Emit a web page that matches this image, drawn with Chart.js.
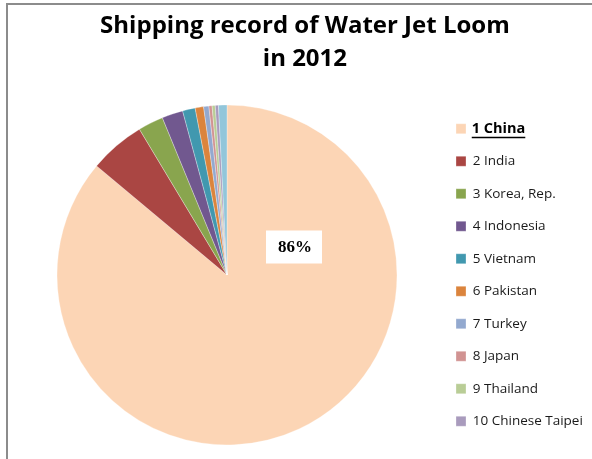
<!DOCTYPE html>
<html>
<head>
<meta charset="utf-8">
<script src="https://cdn.jsdelivr.net/npm/chart.js@4.4.1/dist/chart.umd.min.js"></script>
<style>
  html, body { margin: 0; padding: 0; background: #fff; }
  #wrap { position: relative; width: 592px; height: 459px; overflow: hidden; }
  #frame {
    position: absolute; left: 6px; top: 3px; right: -4px; bottom: -4px;
    border-top: 2px solid #8c8c8c; border-left: 2px solid #8c8c8c;
  }
  #myChart { position: absolute; left: 0; top: 0; }
</style>
</head>
<body>
<div id="wrap">
  <div id="frame"></div>
  <canvas id="myChart" width="592" height="459"></canvas>
</div>
<script>
// Datos: participación por país (%)
const paises = [
  "1 China", "2 India", "3 Korea, Rep.", "4 Indonesia", "5 Vietnam",
  "6 Pakistan", "7 Turkey", "8 Japan", "9 Thailand", "10 Chinese Taipei",
  "11 Others"
];
const participacion = [86, 5.3, 2.4, 2.0, 1.2, 0.8, 0.5, 0.3, 0.3, 0.3, 0.8];
const colores = [
  "#FCD5B5", "#AA4643", "#89A54E", "#71588F", "#4198AF",
  "#DB843D", "#93A9CF", "#D19392", "#B9CD96", "#A99BBD", "#92C6DA"
];
const titulo = ["Shipping record of Water Jet Loom", "in 2012"];

const fuenteLeyenda = { family: "'Open Sans'", size: 13.5 };
const cajaLeyenda = 10;
const sepLeyenda = 19;

// Ancho del texto más largo de la leyenda, para ubicar el pastel
const medidor = document.createElement("canvas").getContext("2d");
medidor.font = fuenteLeyenda.size + "px " + fuenteLeyenda.family;
const anchoTexto = Math.max(...paises.slice(0, 10).map((t) => medidor.measureText(t).width));
const bordeLeyenda = 437; // borde izquierdo de la leyenda
// Chart.js suma 10px extra al ancho de una leyenda vertical
const padDerecho = 592 - bordeLeyenda - (10 + sepLeyenda + cajaLeyenda + fuenteLeyenda.size / 2 + anchoTexto);

// Etiqueta del porcentaje de China + leyenda resaltada
const etiquetas = {
  id: "etiquetas",
  afterDatasetsDraw(chart) {
    const ctx = chart.ctx;
    const arco = chart.getDatasetMeta(0).data[0];
    const total = participacion.reduce((a, b) => a + b, 0);
    const texto = Math.round((participacion[0] / total) * 100) + "%";
    const cx = arco.x + 67;
    const cy = arco.y - 28;
    ctx.save();
    ctx.fillStyle = "#fff";
    ctx.fillRect(cx - 28, cy - 16.5, 56, 33);
    ctx.fillStyle = "#000";
    ctx.font = "bold 17px 'Liberation Serif'";
    ctx.textAlign = "center";
    ctx.textBaseline = "middle";
    ctx.fillText(texto, cx + 1, cy + 1);
    ctx.restore();
  },
  afterDraw(chart) {
    const caja = chart.legend.legendHitBoxes[0];
    if (!caja) return;
    const ctx = chart.ctx;
    const x = caja.left + cajaLeyenda + fuenteLeyenda.size / 2 - 1;
    const y = caja.top + caja.height / 2;
    ctx.save();
    ctx.font = "bold 14.5px 'Open Sans'";
    ctx.fillStyle = "#000";
    ctx.textBaseline = "middle";
    ctx.fillText(paises[0], x, y);
    const w = ctx.measureText(paises[0]).width;
    ctx.fillRect(x, y + 8, w, 1.5);
    ctx.restore();
  },
};

const grafica = document.getElementById("myChart").getContext("2d");
const myChart = new Chart(grafica, {
  type: "pie",
  data: {
    labels: paises,
    datasets: [
      {
        data: participacion,
        backgroundColor: colores,
        borderColor: "rgba(255,255,255,0.6)",
        borderWidth: 0.5,
        radius: 170,
      },
    ],
  },
  options: {
    responsive: false,
    animation: false,
    layout: { padding: { left: 17, right: padDerecho, top: 0, bottom: 0 } },
    plugins: {
      title: {
        display: true,
        text: titulo,
        color: "#000",
        font: { family: "'Open Sans'", size: 24, weight: "bold", lineHeight: 1.375 },
        padding: { top: 9.5, bottom: 15.5 },
      },
      legend: {
        position: "right",
        align: "center",
        fullSize: false,
        labels: {
          font: fuenteLeyenda,
          color: "#1a1a1a",
          boxWidth: cajaLeyenda,
          boxHeight: cajaLeyenda,
          padding: sepLeyenda,
          filter: (item) => item.index < 10,
          generateLabels: (chart) => {
            const items = Chart.overrides.pie.plugins.legend.labels.generateLabels(chart);
            items[0].fontColor = "rgba(0,0,0,0)";
            return items;
          },
        },
      },
      tooltip: { enabled: false },
    },
  },
  plugins: [etiquetas],
});
</script>
</body>
</html>
